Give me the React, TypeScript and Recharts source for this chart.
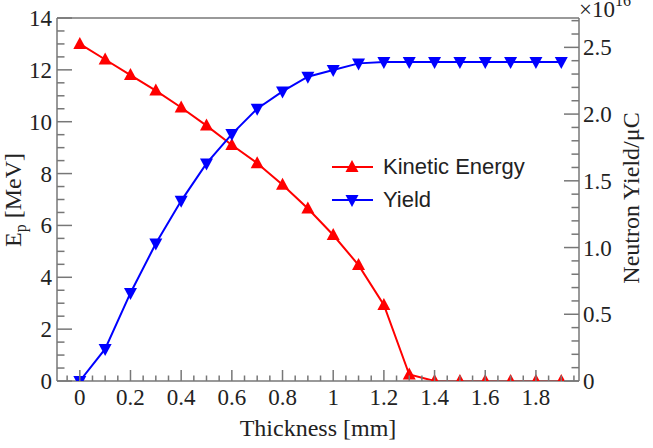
import { LineChart, Line, XAxis, YAxis, ReferenceLine, Legend } from "recharts";

// thickness in mm
const thickness = [0, 0.1, 0.2, 0.3, 0.4, 0.5, 0.6, 0.7, 0.8, 0.9, 1.0, 1.1, 1.2, 1.3, 1.4, 1.5, 1.6, 1.7, 1.8, 1.9];
// proton kinetic energy after the target, MeV
const kineticEnergy = [13.0, 12.4, 11.8, 11.2, 10.55, 9.85, 9.1, 8.4, 7.57, 6.65, 5.63, 4.47, 2.93, 0.25, 0, 0, 0, 0, 0, 0];
// neutron yield per uC, in units of 1e16
const neutronYield = [0, 0.24, 0.66, 1.03, 1.35, 1.63, 1.85, 2.04, 2.17, 2.28, 2.33, 2.38, 2.39, 2.39, 2.39, 2.39, 2.39, 2.39, 2.39, 2.39];

const xMajor = [0, 0.2, 0.4, 0.6, 0.8, 1, 1.2, 1.4, 1.6, 1.8];
const xLabels = ["0", "0.2", "0.4", "0.6", "0.8", "1", "1.2", "1.4", "1.6", "1.8"];
const leftMajor = [0, 2, 4, 6, 8, 10, 12, 14];
const leftLabels = ["0", "2", "4", "6", "8", "10", "12", "14"];
const rightMajor = [0, 0.5, 1, 1.5, 2, 2.5];
const rightLabels = ["0", "0.5", "1.0", "1.5", "2.0", "2.5"];

const data = thickness.map((t, i) => ({ t, energy: kineticEnergy[i], yield: neutronYield[i] }));

const range = (a: number, b: number, step: number) => {
  const out: number[] = [];
  for (let v = a; v <= b + 1e-9; v += step) out.push(Math.round(v * 1000) / 1000);
  return out;
};

const xTicks = range(-0.05, 1.95, 0.05);
const leftTicks = range(0, 14, 0.5);
const rightTicks = range(0, 2.7, 0.1);

const SERIF = '"Liberation Serif", "Times New Roman", serif';
const SANS = '"Liberation Sans", Arial, sans-serif';
const AXIS = "#777";
const TEXT = "#222";
const RED = "#ff0000";
const BLUE = "#0000ff";

const labelFor = (v: number, majors: number[], labels: string[]) => {
  const i = majors.findIndex((m) => Math.abs(m - v) < 1e-6);
  return i >= 0 ? labels[i] : null;
};

const BottomTick = (props: any) => {
  const { x, y, payload } = props;
  const lab = labelFor(payload.value, xMajor, xLabels);
  const len = lab !== null ? 11 : 5.5;
  return (
    <g>
      <line x1={x} x2={x} y1={y} y2={y - len} stroke={AXIS} strokeWidth={1.5} />
      {lab !== null && (
        <text x={x} y={y + 24} textAnchor="middle" fontFamily={SERIF} fontSize={23} fill={TEXT}>
          {lab}
        </text>
      )}
    </g>
  );
};

const LeftTick = (props: any) => {
  const { x, y, payload } = props;
  const lab = labelFor(payload.value, leftMajor, leftLabels);
  const len = lab !== null ? 15 : 7.5;
  return (
    <g>
      <line x1={x} x2={x + len} y1={y} y2={y} stroke={AXIS} strokeWidth={1.5} />
      {lab !== null && (
        <text x={x - 5} y={y + 8} textAnchor="end" fontFamily={SERIF} fontSize={23} fill={TEXT}>
          {lab}
        </text>
      )}
    </g>
  );
};

const RightTick = (props: any) => {
  const { x, y, payload } = props;
  const lab = labelFor(payload.value, rightMajor, rightLabels);
  const len = lab !== null ? 15 : 7.5;
  return (
    <g>
      <line x1={x} x2={x - len} y1={y} y2={y} stroke={AXIS} strokeWidth={1.5} />
      {lab !== null && (
        <text x={x + 4} y={y + 8} textAnchor="start" fontFamily={SERIF} fontSize={23} fill={TEXT}>
          {lab}
        </text>
      )}
    </g>
  );
};

const TriUp = ({ cx, cy, color }: { cx: number; cy: number; color: string }) => (
  <polygon points={`${cx},${cy - 7} ${cx - 6.5},${cy + 5} ${cx + 6.5},${cy + 5}`} fill={color} />
);
const TriDown = ({ cx, cy, color }: { cx: number; cy: number; color: string }) => (
  <polygon points={`${cx},${cy + 7} ${cx - 6.5},${cy - 5} ${cx + 6.5},${cy - 5}`} fill={color} />
);

const legendItems = [
  { name: "Kinetic Energy", color: RED, up: true },
  { name: "Yield", color: BLUE, up: false },
];

const renderLegend = () => (
  <div style={{ fontFamily: SANS, fontSize: 22, color: TEXT }}>
    {legendItems.map((it) => (
      <div key={it.name} style={{ display: "flex", alignItems: "center", height: 33 }}>
        <svg width={44} height={20}>
          <line x1={1} x2={42} y1={10} y2={10} stroke={it.color} strokeWidth={2} />
          {it.up ? <TriUp cx={21} cy={10} color={it.color} /> : <TriDown cx={21} cy={10} color={it.color} />}
        </svg>
        <span style={{ marginLeft: 8 }}>{it.name}</span>
      </div>
    ))}
  </div>
);

export default function App() {
  return (
    <div style={{ position: "absolute", left: 0, top: 0, width: 653, height: 448, background: "#fff", overflow: "hidden" }}>
      <LineChart width={653} height={448} data={data} margin={{ top: 18, right: 73, bottom: 66, left: 56 }}>
        <XAxis
          dataKey="t"
          type="number"
          domain={[-0.09, 1.97]}
          allowDataOverflow
          ticks={xTicks}
          interval={0}
          height={1}
          tickSize={0}
          tickMargin={0}
          tickLine={false}
          axisLine={{ stroke: AXIS, strokeWidth: 1.5 }}
          tick={<BottomTick />}
        />
        <YAxis
          yAxisId="left"
          domain={[0, 14]}
          allowDataOverflow
          ticks={leftTicks}
          interval={0}
          width={1}
          tickSize={0}
          tickMargin={0}
          tickLine={false}
          axisLine={{ stroke: AXIS, strokeWidth: 1.5 }}
          tick={<LeftTick />}
        />
        <YAxis
          yAxisId="right"
          orientation="right"
          domain={[0, 2.72]}
          allowDataOverflow
          ticks={rightTicks}
          interval={0}
          width={1}
          tickSize={0}
          tickMargin={0}
          tickLine={false}
          axisLine={{ stroke: AXIS, strokeWidth: 1.5 }}
          tick={<RightTick />}
        />
        <ReferenceLine yAxisId="left" y={14} stroke={AXIS} strokeWidth={1.5} />
        <Line
          yAxisId="left"
          dataKey="energy"
          stroke={RED}
          strokeWidth={2}
          isAnimationActive={false}
          dot={(p: any) => <TriUp key={`e${p.index}`} cx={p.cx} cy={p.cy} color={RED} />}
          activeDot={false}
        />
        <Line
          yAxisId="right"
          dataKey="yield"
          stroke={BLUE}
          strokeWidth={2}
          isAnimationActive={false}
          dot={(p: any) => <TriDown key={`y${p.index}`} cx={p.cx} cy={p.cy} color={BLUE} />}
          activeDot={false}
        />
        <Legend
          layout="vertical"
          align="center"
          verticalAlign="middle"
          content={renderLegend}
          wrapperStyle={{ position: "absolute", left: 331, top: 150, width: 240 }}
        />
        <text x={318} y={436} textAnchor="middle" fontFamily={SERIF} fontSize={24} fill={TEXT}>
          Thickness [mm]
        </text>
        <text transform="translate(21,200) rotate(-90)" textAnchor="middle" fontFamily={SERIF} fontSize={24} fill={TEXT}>
          E<tspan fontSize={16} dy={5}>p</tspan>
          <tspan dy={-5}> [MeV]</tspan>
        </text>
        <text transform="translate(639,198) rotate(-90)" textAnchor="middle" fontFamily={SERIF} fontSize={24} fill={TEXT}>
          Neutron Yield/μC
        </text>
        <text x={579} y={17} fontFamily={SERIF} fontSize={23} fill={TEXT}>
          ×10<tspan fontSize={16} dy={-11}>16</tspan>
        </text>
      </LineChart>
    </div>
  );
}
